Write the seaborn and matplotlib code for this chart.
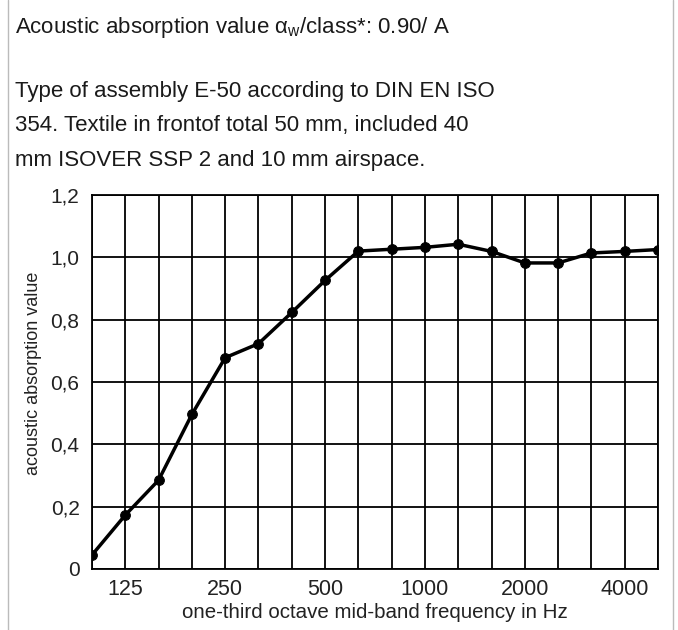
import numpy as np
import pandas as pd
import seaborn as sns
import matplotlib.pyplot as plt
from matplotlib.lines import Line2D

# one-third octave bands and measured absorption
freqs = ["100", "125", "160", "200", "250", "315", "400", "500", "630", "800",
         "1000", "1250", "1600", "2000", "2500", "3150", "4000", "5000"]
alpha = [0.045, 0.173, 0.285, 0.496, 0.678, 0.723, 0.823, 0.926, 1.02, 1.026,
         1.032, 1.042, 1.019, 0.982, 0.982, 1.014, 1.019, 1.025]
labelled = ["125", "250", "500", "1000", "2000", "4000"]
yticks = [0, 0.2, 0.4, 0.6, 0.8, 1.0, 1.2]
ylabels = ["0", "0,2", "0,4", "0,6", "0,8", "1,0", "1,2"]

df = pd.DataFrame({"pos": np.arange(len(freqs)), "alpha": alpha})

sns.set_style("white")
plt.rcParams["font.family"] = ["Liberation Sans", "DejaVu Sans"]

W, H = 678, 630
fig = plt.figure(figsize=(W / 100, H / 100), dpi=100)
ax = fig.add_axes([92 / W, 1 - 569 / H, (658 - 92) / W, (569 - 195) / H])

sns.lineplot(data=df, x="pos", y="alpha", ax=ax, color="black", lw=2.5,
             marker="o", markersize=7, markeredgecolor="black")

ax.set_xlim(0, len(freqs) - 1)
ax.set_ylim(0, 1.2)
ax.set_xticks(df["pos"])
ax.set_xticklabels([f if f in labelled else "" for f in freqs])
ax.set_yticks(yticks)
ax.set_yticklabels(ylabels)
ax.grid(True, color="black", lw=1.3)
ax.set_axisbelow(True)
for s in ax.spines.values():
    s.set_color("black")
    s.set_linewidth(1.3)
ax.tick_params(axis="x", direction="out", length=6, width=1.3, color="black",
               labelsize=15.5, labelcolor="#222222", pad=1)
ax.tick_params(axis="y", direction="out", length=8, width=1.3, color="black",
               labelsize=15, labelcolor="#222222", pad=1)

ax.set_xlabel("one-third octave mid-band frequency in Hz", fontsize=14.8, color="#222222", labelpad=2)
ax.set_ylabel("acoustic absorption value", fontsize=13, color="#222222")
ax.yaxis.set_label_coords(-0.088, 0.522)

txt = dict(fontsize=16, color="#1a1a1a", va="baseline")
fig.text(15 / W, 1 - 33 / H, r"Acoustic absorption value $\mathregular{\alpha_w}$/class*: 0.90/ A", **txt)
fig.text(15 / W, 1 - 97 / H, "Type of assembly E-50 according to DIN EN ISO", **txt)
fig.text(15 / W, 1 - 131.5 / H, "354. Textile in frontof total 50 mm, included 40", **txt)
fig.text(15 / W, 1 - 166 / H, "mm ISOVER SSP 2 and 10 mm airspace.", **txt)

# light frame of the original image
fig.add_artist(Line2D([8 / W, 8 / W], [0, 1], color="#bbbbbb", lw=1, transform=fig.transFigure))
fig.add_artist(Line2D([673 / W, 673 / W], [0, 1], color="#bbbbbb", lw=1, transform=fig.transFigure))

fig.savefig("out.png", dpi=100)
